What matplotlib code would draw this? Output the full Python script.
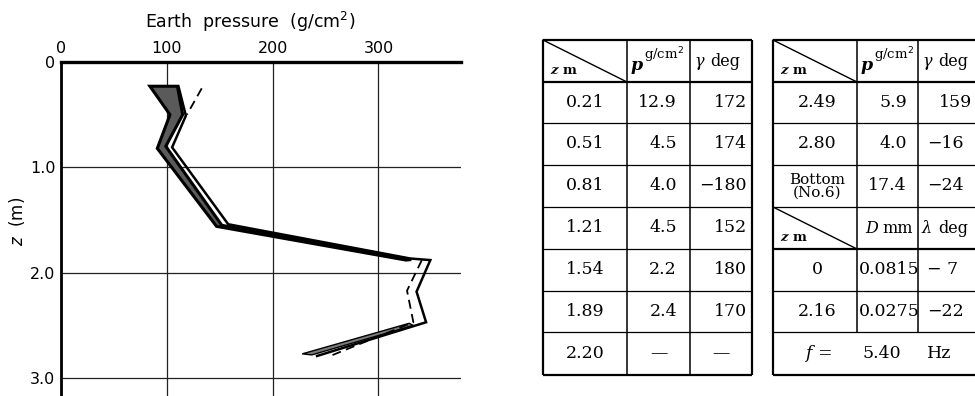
import numpy as np
import matplotlib
matplotlib.use('Agg')
import matplotlib.pyplot as plt

# ---------------- data ----------------
band_z_left = [0.23, 0.50, 0.82, 1.56, 1.88]
band_x_left = [84, 103, 91, 147, 326]
band_z_right = [0.23, 0.50, 0.80, 1.55, 1.875]
band_x_right = [110, 115, 99, 152, 331]
low_band_z_left = [2.48, 2.77]
low_band_x_left = [329, 228]
low_band_z_right = [2.50, 2.78]
low_band_x_right = [333, 237]
solid_z = [0.23, 0.51, 0.81, 1.54, 1.865, 1.88, 2.18, 2.47, 2.79]
solid_x = [111, 118, 105, 158, 330, 349, 336, 345, 242]
dashed_z = [0.25, 0.50, np.nan, 1.88, 2.17, 2.47, 2.80]
dashed_x = [133, 119, np.nan, 341, 327, 333, 252]

x_ticks = [0, 100, 200, 300]
x_tick_labels = ['0', '100', '200', '300']
y_ticks = [0, 1.0, 2.0, 3.0]
y_tick_labels = ['0', '1.0', '2.0', '3.0']

table1_z = ['0.21', '0.51', '0.81', '1.21', '1.54', '1.89', '2.20']
table1_p = ['12.9', '4.5', '4.0', '4.5', '2.2', '2.4', '—']
table1_g = ['172', '174', '−180', '152', '180', '170', '—']

table2_z = ['2.49', '2.80', 'Bottom\n(No.6)']
table2_p = ['5.9', '4.0', '17.4']
table2_g = ['159', '−16', '−24']
table3_z = ['0', '2.16']
table3_D = ['0.0815', '0.0275']
table3_l = ['− 7', '−22']
freq_text = '5.40'

# ---------------- figure ----------------
W, H = 975, 396
fig = plt.figure(figsize=(W / 100, H / 100), dpi=100)

ax = fig.add_axes([61 / W, 0, 400 / W, 1 - 62 / H])
ax.set_xlim(0, 378)
ax.set_ylim(3.17, 0)

ax.fill(band_x_left + band_x_right[::-1], band_z_left + band_z_right[::-1],
        facecolor='#5a5a5a', edgecolor='black', linewidth=2.2, zorder=3,
        joinstyle='miter')
ax.fill(low_band_x_left + low_band_x_right[::-1], low_band_z_left + low_band_z_right[::-1],
        facecolor='#7a7a7a', edgecolor='black', linewidth=1.0, zorder=3)
ax.plot(solid_x, solid_z, color='black', linewidth=1.8, zorder=4,
        solid_joinstyle='miter')
ax.plot(dashed_x, dashed_z, color='black', linewidth=1.3, linestyle=(0, (5, 3)), zorder=4)

ax.set_xticks(x_ticks)
ax.set_xticklabels(x_tick_labels)
ax.set_yticks(y_ticks)
ax.set_yticklabels(y_tick_labels)
ax.xaxis.tick_top()
ax.tick_params(axis='both', length=0, labelsize=11.5, colors='black')
ax.tick_params(axis='x', pad=4)
ax.tick_params(axis='y', pad=4)
ax.grid(True, color='#222222', linewidth=0.9)
ax.set_axisbelow(True)
for s in ['right', 'bottom']:
    ax.spines[s].set_visible(False)
ax.spines['top'].set_linewidth(2.4)
ax.spines['left'].set_linewidth(2.0)

fig.text(250 / W, 1 - 28 / H, 'Earth  pressure  (g/cm$^2$)', ha='center',
         va='baseline', fontsize=12.5)
fig.text(17 / W, 1 - 221 / H, '$z$  (m)', rotation=90, ha='center', va='center',
         fontsize=12)

# ---------------- tables ----------------
tx = fig.add_axes([0, 0, 1, 1])
tx.set_xlim(0, W)
tx.set_ylim(H, 0)
tx.axis('off')

rows = [40, 82, 123, 165, 207, 249, 291, 332, 375]
c1 = [543, 627, 690, 752]
c2 = [773, 857, 918, 981]
SER = 'DejaVu Serif'
FS = 12.5


def hline(x0, x1, y, lw=0.9):
    tx.plot([x0, x1], [y, y], color='black', lw=lw, solid_capstyle='butt')


def vline(x, y0, y1, lw=0.9):
    tx.plot([x, x], [y0, y1], color='black', lw=lw, solid_capstyle='butt')


def header(cols, y0, y1, mid, right):
    tx.plot([cols[0], cols[1]], [y0, y1], color='black', lw=1.0)
    tx.text(cols[0] + 7, y1 - 8, 'z', family=SER, fontsize=9.5, style='italic',
            fontweight='bold', ha='left', va='baseline')
    tx.text(cols[0] + 20, y1 - 8, 'm', family=SER, fontsize=9.5,
            fontweight='bold', ha='left', va='baseline')
    if mid == 'p':
        tx.text(cols[1] + 4, y0 + 30, 'p', family=SER, fontsize=12.5, style='italic',
                fontweight='bold', ha='left', va='baseline')
        tx.text(cols[1] + 17, y0 + 19, 'g/cm$^2$', family=SER, fontsize=9.5,
                ha='left', va='baseline')
    else:
        tx.text(cols[1] + 8, y0 + 26, 'D', family=SER, fontsize=11.5, style='italic',
                ha='left', va='baseline')
        tx.text(cols[1] + 25, y0 + 26, 'mm', family=SER, fontsize=11.5,
                ha='left', va='baseline')
    tx.text(cols[2] + 4, y0 + 26, right, family=SER, fontsize=11.5, style='italic',
            ha='left', va='baseline')
    tx.text(cols[2] + 20, y0 + 26, 'deg', family=SER, fontsize=11.5,
            ha='left', va='baseline')


# left table
for i, y in enumerate(rows):
    lw = 1.6 if i in (0, 1, len(rows) - 1) else 0.9
    hline(c1[0], c1[3], y, lw)
for j, x in enumerate(c1):
    vline(x, rows[0], rows[-1], 1.6 if j in (0, 3) else 1.1)
header(c1, rows[0], rows[1], 'p', 'γ')
for i in range(len(table1_z)):
    yc = (rows[i + 1] + rows[i + 2]) / 2
    tx.text((c1[0] + c1[1]) / 2, yc, table1_z[i], family=SER, fontsize=FS,
            ha='center', va='center')
    if table1_p[i] == '—':
        tx.text((c1[1] + c1[2]) / 2, yc, table1_p[i], family=SER, fontsize=FS,
                ha='center', va='center')
        tx.text((c1[2] + c1[3]) / 2, yc, table1_g[i], family=SER, fontsize=FS,
                ha='center', va='center')
    else:
        tx.text(c1[2] - 13, yc, table1_p[i], family=SER, fontsize=FS,
                ha='right', va='center')
        tx.text(c1[3] - 5, yc, table1_g[i], family=SER, fontsize=FS,
                ha='right', va='center')

# right table
for i, y in enumerate(rows):
    lw = 1.6 if i in (0, 1, 5, len(rows) - 1) else 0.9
    hline(c2[0], c2[3], y, lw)
vline(c2[0], rows[0], rows[-1], 1.6)
for x in c2[1:]:
    vline(x, rows[0], rows[7], 1.1)
header(c2, rows[0], rows[1], 'p', 'γ')
for i in range(len(table2_z)):
    yc = (rows[i + 1] + rows[i + 2]) / 2
    fs = 11 if '\n' in table2_z[i] else FS
    tx.text((c2[0] + c2[1]) / 2 + 2, yc, table2_z[i], family=SER, fontsize=fs,
            ha='center', va='center', linespacing=0.9)
    tx.text(c2[2] - 11, yc, table2_p[i], family=SER, fontsize=FS,
            ha='right', va='center')
    if table2_g[i].startswith('−'):
        tx.text(c2[2] + 9, yc, table2_g[i], family=SER, fontsize=FS,
                ha='left', va='center')
    else:
        tx.text(c2[3] - 9, yc, table2_g[i], family=SER, fontsize=FS,
                ha='right', va='center')
header(c2, rows[4], rows[5], 'D', 'λ')
for i in range(len(table3_z)):
    yc = (rows[i + 5] + rows[i + 6]) / 2
    tx.text((c2[0] + c2[1]) / 2 + 2, yc, table3_z[i], family=SER, fontsize=FS,
            ha='center', va='center')
    tx.text(c2[1] + 2, yc, table3_D[i], family=SER, fontsize=FS,
            ha='left', va='center')
    tx.text(c2[2] + 9, yc, table3_l[i], family=SER, fontsize=FS,
            ha='left', va='center')
yc = (rows[7] + rows[8]) / 2
tx.text(805, yc, 'f', family=SER, fontsize=FS, style='italic', ha='left', va='center')
tx.text(817, yc, '=', family=SER, fontsize=FS, ha='left', va='center')
tx.text(863, yc, freq_text, family=SER, fontsize=FS, ha='left', va='center')
tx.text(927, yc, 'Hz', family=SER, fontsize=FS, ha='left', va='center')

fig.savefig('out.png', dpi=100)
